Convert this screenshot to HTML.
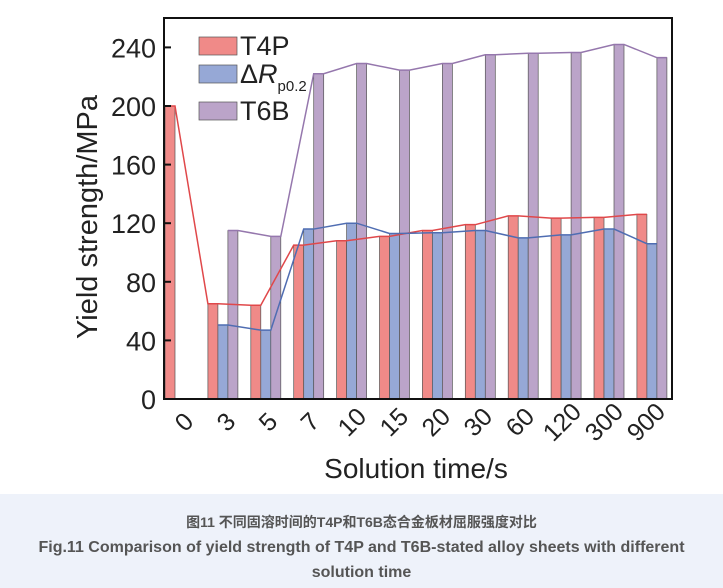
<!DOCTYPE html>
<html><head><meta charset="utf-8"><style>
body{margin:0;width:723px;height:588px;overflow:hidden;background:#fff;font-family:"Liberation Sans","Noto Sans CJK SC",sans-serif}
#cap{position:absolute;left:0;top:494px;width:723px;height:94px;background:#eef2fa;text-align:center;color:#555;font-weight:bold}
</style></head><body>
<svg id="chart" width="723" height="494" style="position:absolute;left:0;top:0" font-family="Liberation Sans, sans-serif"></svg>
<div id="cap">
<div style="position:absolute;top:18px;width:100%;font-size:14px;font-family:'Liberation Sans','Noto Sans CJK SC',sans-serif">图11 不同固溶时间的T4P和T6B态合金板材屈服强度对比</div>
<div style="position:absolute;top:41px;width:100%;font-size:16px;line-height:25px">Fig.11 Comparison of yield strength of T4P and T6B-stated alloy sheets with different<br>solution time</div>
</div>
<script>
const categories=["0","3","5","7","10","15","20","30","60","120","300","900"];
const t4p=[200,65,64,105,108,111,115,119,125,123.5,124,126];
const dR=[null,50.5,47,116,120,113,113.5,115,110,112,116,106];
const t6b=[null,115,111,222,229,224.5,229,235,236,236.5,242,233];
const yTicks=[0,40,80,120,160,200,240];
const svg=document.getElementById('chart');
const NS='http://www.w3.org/2000/svg';
function mk(t,a,p){const e=document.createElementNS(NS,t);for(const k in a)e.setAttribute(k,a[k]);(p||svg).appendChild(e);return e;}
const y0=399,pxPer=58.6/40;
const yS=v=>y0-v*pxPer;
const xS=i=>165+42.9*i;
const bw=10;
const series=[{d:t4p,f:'#f08a88',l:'#e0484a',o:0,n:'t4p'},{d:dR,f:'#96a8d6',l:'#4f6db2',o:10,n:'delta-rp02'},{d:t6b,f:'#bba4c9',l:'#9577ad',o:20,n:'t6b'}];
series.forEach(s=>{
  s.d.forEach((v,i)=>{
    if(v==null)return;
    const x=xS(i)+s.o,y=yS(v);
    const r=mk('rect',{x:x,y:y,width:bw,height:y0-y,fill:s.f,stroke:'#555','stroke-width':0.7});
    
    
  });
});
series.forEach(s=>{
  const pts=[];
  s.d.forEach((v,i)=>{
    if(v==null)return;
    const x=xS(i)+s.o,y=yS(v);
    pts.push([x,y],[x+bw,y]);
  });
  const pl=mk('polyline',{points:pts.map(p=>p.join(',')).join(' '),fill:'none',stroke:s.l,'stroke-width':1.5});
  
  
});
const fr=mk('rect',{x:164,y:18,width:508,height:381,fill:'none',stroke:'#111','stroke-width':2});


yTicks.forEach(v=>{
  const y=yS(v);
  mk('line',{x1:164,x2:171,y1:y,y2:y,stroke:'#111','stroke-width':2});
  const t=mk('text',{x:156,y:y+10,'text-anchor':'end','font-size':27,fill:'#222'});
  t.textContent=v;
  
  
});
categories.forEach((c,i)=>{
  const cx=190+42*i,cy=428;
  const t=mk('text',{x:cx,y:cy,'text-anchor':'middle','font-size':25,fill:'#222',transform:`rotate(-45 ${cx} ${cy})`});
  t.textContent=c;
  
  
});
const xt=mk('text',{x:416,y:478,'text-anchor':'middle','font-size':28,fill:'#222'});
xt.textContent='Solution time/s';


const yt=mk('text',{x:0,y:0,'text-anchor':'middle','font-size':29,fill:'#222',transform:'translate(97 217) rotate(-90)'});
yt.textContent='Yield strength/MPa';


const leg=[['T4P','#f08a88',37],['ΔR','#96a8d6',65],['T6B','#bba4c9',102]];
leg.forEach(([n,c,y],k)=>{
  const g=mk('g',{});
  
  
  mk('rect',{x:199,y:y,width:38,height:18,fill:c,stroke:'#555','stroke-width':0.7},g);
  const t=mk('text',{x:240,y:y+18,'font-size':27,fill:'#222'},g);
  if(k===1){t.innerHTML='Δ<tspan font-style="italic">R</tspan><tspan font-size="15" dy="8">p0.2</tspan>';}
  else t.textContent=n;
});
</script>
</body></html>
